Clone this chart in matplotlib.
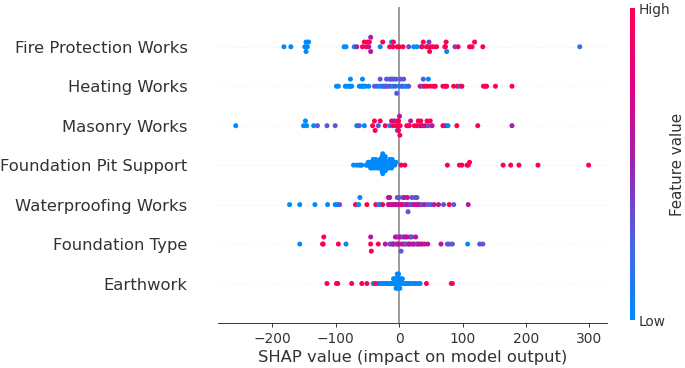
import numpy as np
import matplotlib
matplotlib.use("Agg")
import matplotlib.pyplot as plt
from matplotlib.colors import LinearSegmentedColormap
from matplotlib.cm import ScalarMappable

# features from bottom to top
features = ["Earthwork", "Foundation Type", "Waterproofing Works",
            "Foundation Pit Support", "Masonry Works", "Heating Works",
            "Fire Protection Works"]

B, P, M, R = 0.0, 0.3, 0.62, 1.0

fire_shap = [-182, -171, -149, -147, -147, -145, -143, -87, -84, -71, -67, -58, -55, -52,
             -50, -48, -47, -45, -45, -30, -26, -15, -12, -10, -9, -3, 0, 6, 15, 23, 28,
             35, 36, 38, 43, 46, 47, 48, 50, 54, 59, 72, 73, 74, 75, 88, 93, 111, 115,
             119, 132, 285]
fire_feat = [B, B, B, B, B, B, B, B, B, B, 0.55, R, R, R,
             R, M, R, 0.6, 0.55, B, R, R, B, R, R, R, R, R, 0.35, B, B,
             B, R, R, R, R, 0.4, R, R, R, R, R, R, R, 0.05, 0.35, R, R, R,
             R, R, 0.2]

heat_shap = [-99, -96, -85, -83, -79, -77, -77, -75, -63, -60, -58, -58, -56, -53, -48,
             -39, -35, -31, -30, -27, -25, -22, -20, -20, -17, -15, -14, -12, -10, -9,
             -6, -5, -4, 0, 2, 4, 5, 7, 9, 12, 15, 33, 37, 38, 40, 44, 46, 49, 54, 57,
             69, 73, 75, 86, 92, 96, 99, 133, 136, 138, 152, 178]
heat_feat = [B, B, B, B, B, B, B, B, B, B, B, B, B, B, B,
             P, P, B, P, B, P, P, P, P, P, P, P, P, B, P,
             P, P, P, B, P, P, P, P, B, B, P, M, P, P, R, R, B, R, R, R,
             R, R, R, R, R, P, R, R, R, R, R, R]

mason_shap = [-258, -151, -148, -146, -135, -129, -114, -101, -67, -63, -55,
              -42, -39, -38, -33, -30, -22, -15, -12, -10, -8, -5, -3, -3, -2, -1, -1,
              0.5, 1, 1.5, 12, 16, 18, 24, 28, 30, 33, 34, 37, 41, 44, 46, 49, 52,
              69, 73, 77, 91, 124, 178]
mason_feat = [B, B, B, B, B, P, P, P, B, P, B,
              R, R, R, P, R, R, B, R, R, M, R, R, 0.25, R, R, R,
              M, R, R, R, R, M, R, R, R, R, R, M, R, R, P, R, M,
              R, M, B, R, R, 0.55]

pit_shap = [-72, -67, -63, -61, -59,
            -52, -50, -49, -47, -46, -45, -44, -43, -42, -41, -40, -39, -38, -37, -36,
            -35, -34, -33, -32, -31, -30, -29, -29, -28, -28, -27, -27, -26, -26, -25,
            -24, -24, -23, -22, -22, -21, -20, -19, -18, -17, -16, -15, -14, -13, -12,
            -11, -10, -9, -7, -5,
            3, 9, 76, 95, 99, 107, 109, 111, 164, 176, 189, 219, 299]
pit_feat = [B] * 55 + [R] * 13

water_shap = [-173, -157, -133, -113, -101, -98, -94, -69, -64, -62, -51, -37, -32, -30, -26,
              -17, -17, -16, -15, -12, -10, -8, -5, -3, -2, 0, 2, 4, 6, 7, 8, 10, 12, 13,
              14, 16, 18, 20, 22, 23, 25, 27, 28, 30, 33, 36, 40, 45, 50, 55,
              62, 70, 79, 86, 109]
water_feat = [B, B, B, B, B, B, P, R, B, B, R, R, B, B, R,
              M, M, M, M, M, R, M, M, P, M, P, M, R, B, M, M, P, M, M,
              P, M, P, P, P, M, P, M, P, M, M, P, M, P, P, M,
              M, P, R, P, M]

ftype_shap = [-157, -121, -120, -119, -96, -84, -45, -45, -44, -33,
              -22, -15, -12, -10, -8, -6, -4, -3, -2, 0, 1, 2, 3, 5, 6, 8, 9, 10, 12,
              14, 15, 17, 18, 20, 22, 24, 26, 28, 30, 33, 36, 40, 45,
              66, 76, 79, 84, 108, 127, 132]
ftype_feat = [B, R, R, R, R, B, R, M, R, R,
              M, P, P, M, M, M, P, M, M, P, M, M, P, M, P, M, M, P, M,
              P, M, M, M, P, M, M, M, P, M, M, M, M, M,
              M, P, P, P, B, P, P]

earth_shap = [-114, -99, -97, -75, -59, -51, -41, -37, -32,
              -30, -28, -25, -22, -20, -18, -16, -15, -13, -12, -10, -9, -8, -7, -6,
              -5, -5, -4, -4, -3, -3, -2, -2, -1, -1, 0, 0, 1, 2, 3, 4, 5, 6, 8, 10,
              12, 15, 18, 22, 26, 30,
              33, 43, 82, 84]
earth_feat = [R, R, R, R, R, R, B, R, R] + [B] * 41 + [B, R, P, R]

shap_rows = [earth_shap, ftype_shap, water_shap, pit_shap, mason_shap, heat_shap, fire_shap]
feat_rows = [earth_feat, ftype_feat, water_feat, pit_feat, mason_feat, heat_feat, fire_feat]

# shap-like red/blue colormap
red_blue = LinearSegmentedColormap.from_list(
    "red_blue", ["#008afb", "#4b63e3", "#9c23ac", "#e00086", "#ff0051"])


def swarm_offsets(vals, row_height=0.4, nbins=100):
    vals = np.asarray(vals, float)
    quant = np.round(nbins * (vals - vals.min()) / (vals.max() - vals.min() + 1e-8))
    inds = np.argsort(quant, kind="stable")
    ys = np.zeros(len(vals))
    layer = 0
    last_bin = -1
    for i in inds:
        if quant[i] != last_bin:
            layer = 0
        ys[i] = np.ceil(layer / 2) * ((layer % 2) * 2 - 1)
        layer += 1
        last_bin = quant[i]
    ys *= 0.9 * (row_height / np.max(ys + 1))
    return ys


k = 1.056  # the reference was rendered a bit larger than 8in at this size
axis_color = "#333333"
fig = plt.figure(figsize=(8, 4.3), dpi=85.625)
ax = fig.add_axes([218 / 685, 45 / 368, 389 / 685, 315.5 / 368])

ax.axvline(0, color="#999999", lw=1.5 * k, zorder=-1)
for pos, (sv, fv) in enumerate(zip(shap_rows, feat_rows)):
    ax.axhline(pos, color="#cccccc", lw=0.5, dashes=(1, 5), zorder=-1)
    ys = swarm_offsets(sv)
    ax.scatter(sv, pos + ys, c=fv, cmap=red_blue, vmin=0, vmax=1, s=16 * k * k,
               linewidth=0, alpha=1, zorder=3)

ax.set_xlim(-286, 328)
ax.set_ylim(-1, len(features))
ax.set_yticks(range(len(features)))
ax.set_yticklabels(features, fontsize=13 * k)
ax.set_xticks([-200, -100, 0, 100, 200, 300])
ax.set_xlabel("SHAP value (impact on model output)", fontsize=13 * k, color=axis_color)

ax.xaxis.set_ticks_position("bottom")
ax.yaxis.set_ticks_position("none")
for s in ["right", "top", "left"]:
    ax.spines[s].set_visible(False)
ax.spines["bottom"].set_color(axis_color)
ax.tick_params(color=axis_color, labelcolor=axis_color)
ax.tick_params("y", length=22, width=0.5, which="major")
ax.tick_params("x", labelsize=11 * k, length=3.5 * k)

# colorbar
cax = fig.add_axes([630 / 685, 48 / 368, 4.5 / 685, 312 / 368])
sm = ScalarMappable(cmap=red_blue)
sm.set_array([0, 1])
cb = fig.colorbar(sm, cax=cax, ticks=[0, 1])
cb.set_ticklabels(["Low", "High"])
cb.set_label("Feature value", size=12 * k, labelpad=0, color=axis_color)
cb.ax.tick_params(labelsize=11 * k, length=0, labelcolor=axis_color)
cb.outline.set_visible(False)

fig.savefig("out.png", dpi=85.625)
